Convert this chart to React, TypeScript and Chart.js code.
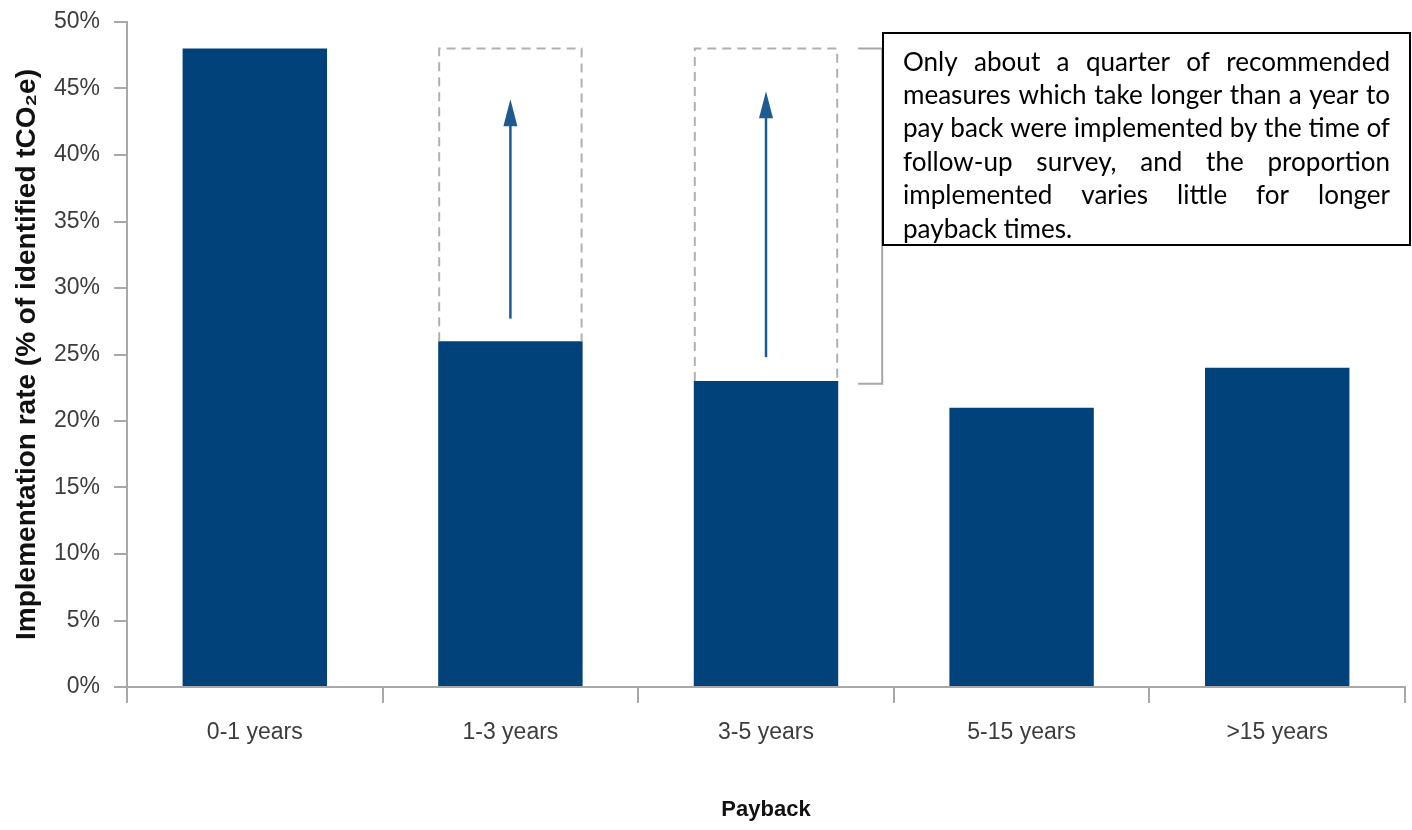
import React, { useEffect, useRef } from 'react';
import { Chart, registerables } from 'chart.js';

Chart.register(...registerables);

// ---- data ----
const categories = ['0-1 years', '1-3 years', '3-5 years', '5-15 years', '>15 years'];
const implementationRate = [48, 26, 23, 21, 24];
const potentialRate: (number | null)[] = [null, 48, 48, null, null];
const arrowFrom: (number | null)[] = [null, 27.7, 24.8, null, null];
const arrowTo: (number | null)[] = [null, 44.2, 44.8, null, null];
const bracketRange = [22.8, 48];
const yMin = 0;
const yMax = 50;
const yStep = 5;
const yTitle = 'Implementation rate (% of identified tCO\u2082e)';
const xTitle = 'Payback';
const noteLines = [
  'Only about a quarter of recommended',
  'measures which take longer than a year to',
  'pay back were implemented by the time of',
  'follow-up survey, and the proportion',
  'implemented varies little for longer',
  'payback times.',
];

const BAR_COLOR = '#01427a';
const ARROW_COLOR = '#1d5a92';
const AXIS_COLOR = '#a8a8a8';

const overlayPlugin = {
  id: 'overlay',
  afterDatasetsDraw(chart: any) {
    const { ctx } = chart;
    const y = chart.scales.y;
    const meta = chart.getDatasetMeta(0);
    ctx.save();
    // dashed "potential" boxes
    potentialRate.forEach((v, i) => {
      if (v == null) return;
      const bar = meta.data[i];
      const l = bar.x - bar.width / 2;
      const r = bar.x + bar.width / 2;
      const t = y.getPixelForValue(v);
      const b = bar.y;
      ctx.beginPath();
      ctx.setLineDash([9, 6]);
      ctx.strokeStyle = '#b0b0b0';
      ctx.lineWidth = 2;
      ctx.moveTo(l + 1, b);
      ctx.lineTo(l + 1, t);
      ctx.lineTo(r - 1, t);
      ctx.lineTo(r - 1, b);
      ctx.stroke();
    });
    ctx.setLineDash([]);
    // arrows
    arrowFrom.forEach((v, i) => {
      const to = arrowTo[i];
      if (v == null || to == null) return;
      const bar = meta.data[i];
      const x = bar.x;
      const y1 = y.getPixelForValue(v);
      const y2 = y.getPixelForValue(to);
      ctx.strokeStyle = ARROW_COLOR;
      ctx.fillStyle = ARROW_COLOR;
      ctx.lineWidth = 2.5;
      ctx.beginPath();
      ctx.moveTo(x, y1);
      ctx.lineTo(x, y2 + 18);
      ctx.stroke();
      ctx.beginPath();
      ctx.moveTo(x, y2);
      ctx.lineTo(x - 7, y2 + 27);
      ctx.lineTo(x + 7, y2 + 27);
      ctx.closePath();
      ctx.fill();
    });
    // bracket next to 3-5 years
    {
      const bar = meta.data[2];
      const r = bar.x + bar.width / 2;
      const x0 = r + 20;
      const x1 = r + 44;
      const yt = y.getPixelForValue(bracketRange[1]);
      const yb = y.getPixelForValue(bracketRange[0]);
      ctx.strokeStyle = '#a6a6a6';
      ctx.lineWidth = 2;
      ctx.beginPath();
      ctx.moveTo(x0, yt);
      ctx.lineTo(x1, yt);
      ctx.lineTo(x1, yb);
      ctx.lineTo(x0, yb);
      ctx.stroke();
    }
    ctx.restore();
  },
  afterDraw(chart: any) {
    const { ctx } = chart;
    ctx.save();
    const bx = 883, by = 33, bw = 527, bh = 212;
    ctx.fillStyle = '#ffffff';
    ctx.fillRect(bx, by, bw, bh);
    ctx.strokeStyle = '#000000';
    ctx.lineWidth = 2;
    ctx.strokeRect(bx, by, bw, bh);
    // justified text
    const textLeft = 903;
    const textWidth = 487;
    const family = 'Lato, "Open Sans", sans-serif';
    ctx.font = `26px ${family}`;
    const natural = Math.max(ctx.measureText(noteLines[1]).width, ctx.measureText(noteLines[2]).width);
    const fs = (26 * textWidth) / natural;
    ctx.font = `${fs}px ${family}`;
    ctx.fillStyle = '#000000';
    ctx.textBaseline = 'alphabetic';
    ctx.textAlign = 'left';
    const firstBase = 70.5;
    const lineGap = 33.4;
    noteLines.forEach((line, li) => {
      const yb = firstBase + li * lineGap;
      const words = line.split(' ');
      if (li === noteLines.length - 1 || words.length < 2) {
        ctx.fillText(line, textLeft, yb);
        return;
      }
      const sum = words.reduce((s, w) => s + ctx.measureText(w).width, 0);
      const gap = (textWidth - sum) / (words.length - 1);
      let x = textLeft;
      words.forEach((w) => {
        ctx.fillText(w, x, yb);
        x += ctx.measureText(w).width + gap;
      });
    });
    ctx.restore();
  },
};

export default function App() {
  const ref = useRef<HTMLCanvasElement | null>(null);
  useEffect(() => {
    if (!ref.current) return;
    const chart = new Chart(ref.current, {
      type: 'bar',
      data: {
        labels: categories,
        datasets: [
          {
            data: implementationRate,
            backgroundColor: BAR_COLOR,
            borderWidth: 0,
            categoryPercentage: 1,
            barPercentage: 0.565,
          },
        ],
      },
      options: {
        responsive: false,
        animation: false,
        events: [],
        layout: { padding: { left: 0, top: 22, right: 7, bottom: 0 } },
        plugins: { legend: { display: false }, tooltip: { enabled: false } },
        scales: {
          x: {
            grid: {
              display: true,
              drawOnChartArea: false,
              drawTicks: true,
              tickLength: 16,
              color: AXIS_COLOR,
              lineWidth: 2,
              offset: true,
            },
            border: { display: true, color: AXIS_COLOR, width: 2 },
            ticks: {
              color: '#3c3c3c',
              font: { family: '"Liberation Sans", Arial, sans-serif', size: 23 },
              padding: 16,
              maxRotation: 0,
            },
            title: {
              display: true,
              text: xTitle,
              color: '#111111',
              font: { family: '"Liberation Sans", Arial, sans-serif', size: 22, weight: 'bold' },
              padding: { top: 0, bottom: 7 },
            },
            afterFit(scale: any) {
              scale.height = 143;
            },
          },
          y: {
            min: yMin,
            max: yMax,
            grid: {
              display: true,
              drawOnChartArea: false,
              drawTicks: true,
              tickLength: 13,
              color: AXIS_COLOR,
              lineWidth: 2,
            },
            border: { display: true, color: AXIS_COLOR, width: 2 },
            ticks: {
              stepSize: yStep,
              color: '#3c3c3c',
              font: { family: '"Liberation Sans", Arial, sans-serif', size: 23, lineHeight: 0.6 },
              padding: 14,
              callback: (v: any) => `${v}%`,
            },
            title: {
              display: true,
              text: yTitle,
              color: '#111111',
              font: { family: '"Liberation Sans", Arial, sans-serif', size: 28, weight: 'bold' },
              padding: { top: 10, bottom: 0 },
            },
            afterFit(scale: any) {
              scale.width = 127;
            },
          },
        },
      },
      plugins: [overlayPlugin],
    });
    return () => chart.destroy();
  }, []);
  return (
    <div style={{ position: 'absolute', left: 0, top: 0, width: 1412, height: 830, background: '#ffffff' }}>
      <canvas ref={ref} width={1412} height={830} />
    </div>
  );
}
